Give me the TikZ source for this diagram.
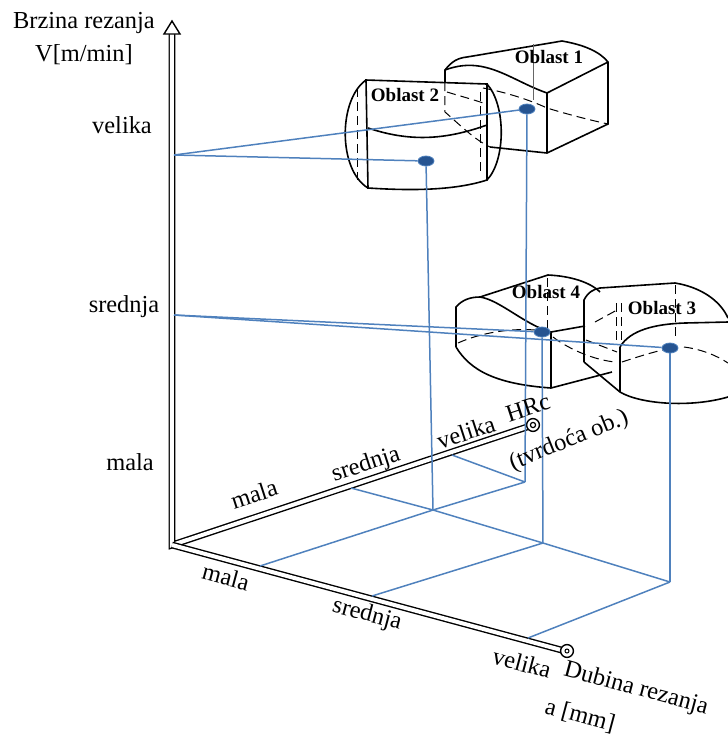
\documentclass[tikz,border=0pt]{standalone}
\usepackage{fontspec}
\setmainfont{Liberation Serif}
\usetikzlibrary{shapes.geometric}
\definecolor{lineblue}{RGB}{79,129,189}
\definecolor{dotblue}{RGB}{38,84,145}
\tikzset{
  axis/.style={double, double distance=2pt, line width=0.7pt},
  gridline/.style={color=lineblue, line width=0.75pt},
  region/.style={line width=0.8pt},
  hidden/.style={line width=0.5pt, dash pattern=on 4.5pt off 2.5pt},
  dot/.style={ellipse, fill=dotblue, draw=lineblue, line width=0.4pt, minimum width=8pt, minimum height=5pt, inner sep=0pt},
  lbl/.style={font=\fontsize{12.2}{14}\selectfont, inner sep=0pt},
  oblast/.style={font=\bfseries\fontsize{9.5}{11}\selectfont, inner sep=0pt}
}
\begin{document}
\begin{tikzpicture}[x=0.5pt,y=-0.5pt]
			\useasboundingbox (0,0) rectangle (728,736);
			%%%%% START %%%%%
			
			\coordinate (O) at (172,545);
			\coordinate (vtop) at (172,33);
			\coordinate (hend) at (530,426);
			\coordinate (dend) at (565,651);
			
			% oblast 1
			\draw[region] (445,82) -- (445,70) .. controls (452,61) and (458,58) .. (467,57) -- (562,41) .. controls (585,45) and (600,52) .. (608,62) -- (608,124) -- (547,153) -- (490,147);
			\draw[region] (445,70) .. controls (485,55) and (510,80) .. (547,93) -- (608,62);
			\draw[region] (547,93) -- (547,153);
			\draw[line width=0.4pt, color=black!60] (533,44) -- (533,100);
			\draw[hidden] (483,88) .. controls (505,92) and (530,100) .. (547,108) .. controls (570,115) and (590,120) .. (608,124);
			\draw[hidden] (445,82) -- (445,112) .. controls (460,125) and (475,140) .. (490,147);
			
			% oblast 2
			\draw[region] (366,80) -- (487,84) -- (487,180) .. controls (450,192) and (400,190) .. (368,188) -- cycle;
			\draw[region] (366,80) .. controls (338,100) and (338,170) .. (368,188);
			\draw[region] (487,84) .. controls (506,105) and (506,160) .. (487,180);
			\draw[region] (368,128) .. controls (410,142) and (445,140) .. (487,125);
			\draw[hidden] (358,88) -- (358,180);
			\draw[hidden] (481,92) -- (481,176);
			\draw[hidden] (447,92) .. controls (460,96) and (475,100) .. (486,104);
			
			% oblast 4
			\draw[region] (456,347) -- (456,307) .. controls (462,300) and (470,297) .. (480,297) -- (548,275) .. controls (570,276) and (590,282) .. (600,292);
			\draw[region] (480,297) .. controls (500,300) and (525,325) .. (551,332) -- (585,326);
			\draw[region] (551,332) -- (551,388);
			\draw[region] (456,347) .. controls (470,370) and (495,384) .. (551,388) -- (612,372);
			\draw[hidden] (458,343) .. controls (480,333) and (510,328) .. (535,330);
			\draw[hidden] (548,278) -- (548,330);
			\draw[hidden] (553,337) .. controls (570,350) and (595,360) .. (615,362);
			
			% oblast 3
			\draw[region] (584,362) -- (584,300) .. controls (588,292) and (594,289) .. (600,288) -- (675,283) .. controls (700,287) and (720,300) .. (728,318);
			\draw[region] (620,347) .. controls (630,330) and (655,324) .. (685,323) -- (728,322);
			\draw[region] (620,347) -- (620,392);
			\draw[region] (584,362) -- (620,392) .. controls (640,404) and (690,408) .. (728,397);
			\draw[hidden] (617,303) -- (617,343);
			\draw[hidden] (622,303) -- (622,343);
			\draw[hidden] (676,285) -- (676,340);
			\draw[hidden] (586,340) -- (617,352);
			\draw[hidden] (595,322) -- (617,310);
			\draw[hidden] (622,362) .. controls (640,356) and (660,350) .. (672,348);
			\draw[hidden] (684,347) .. controls (700,349) and (716,355) .. (728,363);
			
			% axes
			\draw[axis] (vtop) -- (O) -- (hend);
			\draw[axis] (O) -- (dend);
			\draw[line width=0.7pt, fill=white] (164,34) -- (172,21) -- (180,34) -- cycle;
			\draw[line width=0.7pt, fill=white] (533,425) circle (3.2pt);
			\draw[line width=0.6pt] (533,425) circle (1.3pt);
			\draw[line width=0.7pt, fill=white] (567,651) circle (3.2pt);
			\draw[line width=0.5pt] (567,651) circle (1pt);
			
			% grid
			\coordinate (vV) at (174,155);
			\coordinate (vS) at (174,315);
			\coordinate (hS) at (351,488);
			\coordinate (hV) at (452,455);
			\coordinate (dM) at (260,566);
			\coordinate (dS) at (372,596);
			\coordinate (dV) at (528,638);
			\coordinate (gA) at (433,510);
			\coordinate (gB) at (525,482);
			\coordinate (gC) at (543,543);
			\coordinate (gD) at (670,582);
			
			\node[dot] (d1) at (527,109) {};
			\node[dot] (d2) at (426,161) {};
			\node[dot] (d3) at (670,348) {};
			\node[dot] (d4) at (542,332) {};
			
			\draw[gridline] (hS) -- (gA) -- (gC) -- (gD);
			\draw[gridline] (dM) -- (gA) -- (gB);
			\draw[gridline] (hV) -- (gB);
			\draw[gridline] (dS) -- (gC);
			\draw[gridline] (dV) -- (gD);
			\draw[gridline] (gA) -- (d2);
			\draw[gridline] (gB) -- (d1);
			\draw[gridline] (gC) -- (d4);
			\draw[gridline] (gD) -- (d3);
			\draw[gridline] (vV) -- (d1);
			\draw[gridline] (vV) -- (d2);
			\draw[gridline] (vS) -- (d4);
			\draw[gridline] (vS) -- (d3);
			
			% labels
			\node[lbl] (tV1) at (84,23) {Brzina rezanja};
			\node[lbl] (tV2) at (84,55) {V[m/min]};
			\node[lbl] (vVel) at (122,125) {velika};
			\node[lbl] (vSre) at (124,307) {srednja};
			\node[lbl] (vMal) at (130,462) {mala};
			
			\node[lbl, rotate=18] (hMal) at (254,494) {mala};
			\node[lbl, rotate=18] (hSre) at (366,465) {srednja};
			\node[lbl, rotate=18] (hVel) at (466,432) {velika};
			\node[lbl, rotate=18] (tH1) at (528,408) {HRc};
			\node[lbl, rotate=22] (tH2) at (569,441) {(tvrdoća ob.)};
			
			\node[lbl, rotate=-15] (dMal) at (226,577) {mala};
			\node[lbl, rotate=-15] (dSre) at (367,615) {srednja};
			\node[lbl, rotate=-15] (dVel) at (522,663) {velika};
			\node[lbl, rotate=-15] (tD1) at (636,689) {Dubina rezanja};
			\node[lbl, rotate=-15] (tD2) at (580,716) {a [mm]};
			
			\node[oblast] (o1) at (549,57) {Oblast 1};
			\node[oblast] (o2) at (405,95) {Oblast 2};
			\node[oblast] (o3) at (662,308) {Oblast 3};
			\node[oblast] (o4) at (546,292) {Oblast 4};
			
			%%%%% END %%%%%
\end{tikzpicture}
\end{document}
